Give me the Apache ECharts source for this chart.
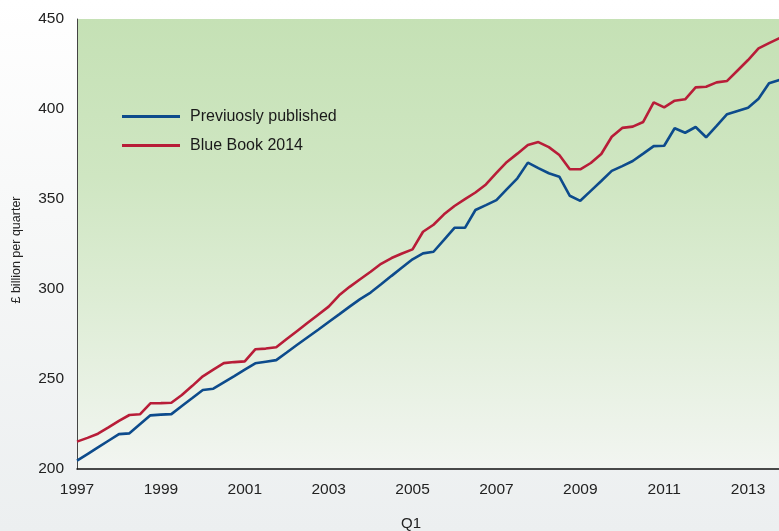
<!DOCTYPE html>
<html>
<head>
<meta charset="utf-8">
<script src="https://cdn.jsdelivr.net/npm/echarts@6/dist/echarts.min.js"></script>
<style>
  html, body { margin: 0; padding: 0; }
  body { background: linear-gradient(to bottom, #ffffff 0%, #f7f8f8 40%, #eceff0 100%); }
  #chart { width: 779px; height: 531px; }
</style>
</head>
<body>
<div id="chart"></div>
<script>
// Quarterly GDP, £ billion per quarter, 1997 Q1 – 2014 Q1
const firstYear = 1997;
const lastYear = 2014;

const quarters = [];
for (let y = firstYear; y <= lastYear; y++) {
  for (let q = 1; q <= 4; q++) {
    if (y === lastYear && q > 1) break;
    quarters.push(y + ' Q' + q);
  }
}

const previouslyPublished = [
  204.6, 208.3, 212.0, 215.7, 219.4, 219.8, 224.8, 229.8,
  230.2, 230.5, 235.0, 239.4, 243.9, 244.6, 248.1, 251.6,
  255.2, 258.7, 259.6, 260.5, 264.7, 269.0, 273.2, 277.4,
  281.7, 285.9, 290.2, 294.4, 298.0, 302.6, 307.3, 311.9,
  316.5, 319.8, 320.7, 327.3, 334.0, 334.0, 343.9, 346.6,
  349.4, 355.5, 361.5, 370.2, 367.2, 364.3, 362.4, 351.8,
  349.0, 354.5, 360.0, 365.6, 368.3, 371.1, 375.2, 379.4,
  379.6, 389.3, 386.8, 390.0, 384.3, 390.6, 397.1, 398.9,
  400.7, 405.7, 414.3, 416.1, 417.5
];

const blueBook2014 = [
  215.2, 217.3, 219.6, 223.1, 226.7, 230.0, 230.4, 236.5,
  236.6, 236.8, 241.1, 246.2, 251.5, 255.2, 258.8, 259.4,
  259.8, 266.5, 266.9, 267.6, 272.2, 276.7, 281.2, 285.7,
  290.2, 296.5, 301.2, 305.4, 309.6, 314.0, 317.2, 319.7,
  322.0, 331.8, 335.7, 341.5, 346.1, 349.9, 353.6, 358.1,
  364.5, 370.6, 375.2, 380.0, 381.6, 378.8, 374.4, 366.5,
  366.5, 370.0, 375.0, 384.6, 389.5, 390.2, 392.8, 403.7,
  400.9, 404.6, 405.4, 412.0, 412.4, 414.8, 415.6, 421.4,
  427.2, 433.7, 436.6, 439.4, 442.0
];

const seriesNames = ['Previuosly published', 'Blue Book 2014'];
const yTicks = { min: 200, max: 450, step: 50 };

const chart = echarts.init(document.getElementById('chart'), null, { renderer: 'canvas' });

const labelFont = '"Liberation Sans", Arial, sans-serif';

chart.setOption({
  animation: false,
  backgroundColor: 'transparent',
  grid: {
    // the plot runs on past the right edge of the canvas, to the 2014 Q1 point
    left: 77, top: 19, width: 713, height: 450,
    outerBoundsMode: 'none',
    containLabel: false,
    show: true,
    borderWidth: 0,
    backgroundColor: new echarts.graphic.LinearGradient(0, 0, 0, 1, [
      { offset: 0, color: '#c5e1b5' },
      { offset: 0.35, color: '#cfe6c2' },
      { offset: 0.6, color: '#dcecd3' },
      { offset: 0.85, color: '#eaf2e6' },
      { offset: 1, color: '#f2f5f1' }
    ])
  },
  legend: {
    orient: 'vertical',
    left: 117,
    top: 101,
    itemWidth: 58,
    itemHeight: 3,
    itemGap: 8,
    icon: 'rect',
    data: seriesNames,
    textStyle: {
      fontFamily: '"Liberation Sans Narrow", "Arial Narrow", "Liberation Sans", sans-serif',
      fontSize: 16,
      lineHeight: 21,
      color: '#1a1a1a',
      padding: [0, 0, 0, 5]
    }
  },
  xAxis: {
    type: 'category',
    data: quarters,
    boundaryGap: false,
    axisLine: { show: true, lineStyle: { color: '#111', width: 1.5 } },
    axisTick: { show: false },
    splitLine: { show: false },
    axisLabel: {
      interval: 7,
      margin: 13,
      fontFamily: labelFont,
      fontSize: 15.5,
      color: '#222',
      formatter: v => v.split(' ')[0]
    }
  },
  yAxis: {
    type: 'value',
    min: yTicks.min,
    max: yTicks.max,
    interval: yTicks.step,
    axisLine: { show: true, lineStyle: { color: '#444', width: 1 } },
    axisTick: { show: false },
    splitLine: { show: false },
    axisLabel: {
      margin: 13,
      fontFamily: labelFont,
      fontSize: 15.5,
      color: '#222'
    }
  },
  graphic: [
    {
      type: 'text',
      x: 17, y: 250,
      rotation: Math.PI / 2,
      style: {
        text: '£ billion per quarter',
        fontFamily: labelFont,
        fontSize: 12.5,
        fill: '#222',
        align: 'center',
        verticalAlign: 'middle'
      }
    },
    {
      type: 'text',
      x: 411, y: 524,
      style: {
        text: 'Q1',
        fontFamily: labelFont,
        fontSize: 15,
        fill: '#222',
        align: 'center',
        verticalAlign: 'middle'
      }
    }
  ],
  series: [
    {
      name: seriesNames[0],
      type: 'line',
      data: previouslyPublished,
      showSymbol: false,
      color: '#0d4b8c',
      lineStyle: { width: 2.6, color: '#0d4b8c' }
    },
    {
      name: seriesNames[1],
      type: 'line',
      data: blueBook2014,
      showSymbol: false,
      color: '#b81d38',
      lineStyle: { width: 2.6, color: '#b81d38' }
    }
  ]
});
</script>
</body>
</html>
